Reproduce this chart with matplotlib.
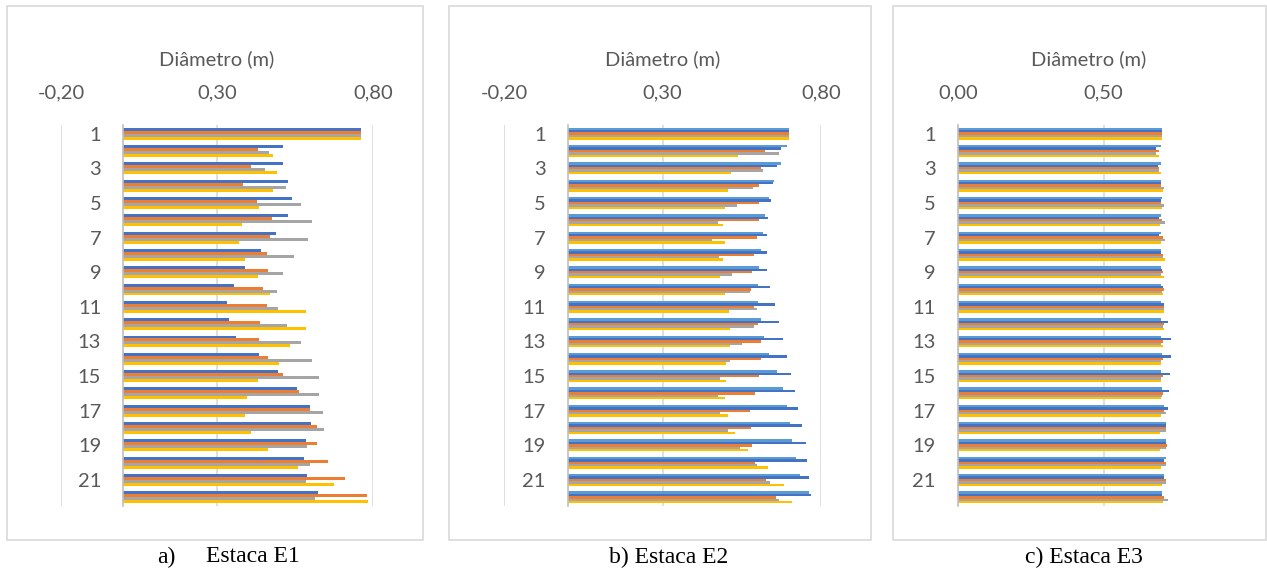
import matplotlib
matplotlib.use("Agg")
import matplotlib.pyplot as plt
from matplotlib.patches import Rectangle
import numpy as np

# ------------------------------------------------------------------
# dados (diametro em m, estacas 1..22)
# ------------------------------------------------------------------
secoes = [1, 2, 3, 4, 5, 6, 7, 8, 9, 10, 11, 12, 13, 14, 15, 16, 17, 18, 19, 20, 21, 22]
rotulos = ["1", "", "3", "", "5", "", "7", "", "9", "", "11", "", "13", "", "15", "", "17", "", "19", "", "21", ""]

# Estaca E1 (4 series)
e1_azul = [0.76, 0.511, 0.510, 0.527, 0.541, 0.526, 0.488, 0.441, 0.391, 0.354, 0.332,
           0.339, 0.361, 0.435, 0.495, 0.558, 0.597, 0.601, 0.585, 0.579, 0.590, 0.623]
e1_laranja = [0.76, 0.433, 0.409, 0.382, 0.428, 0.476, 0.470, 0.459, 0.465, 0.446, 0.460,
              0.438, 0.434, 0.463, 0.511, 0.562, 0.597, 0.619, 0.619, 0.656, 0.710, 0.780]
e1_cinza = [0.76, 0.468, 0.455, 0.522, 0.570, 0.603, 0.593, 0.548, 0.512, 0.493, 0.496,
            0.525, 0.569, 0.605, 0.627, 0.627, 0.639, 0.642, 0.590, 0.598, 0.585, 0.614]
e1_amarelo = [0.76, 0.480, 0.491, 0.480, 0.435, 0.380, 0.370, 0.389, 0.433, 0.469, 0.585,
              0.585, 0.534, 0.500, 0.432, 0.395, 0.391, 0.409, 0.464, 0.560, 0.675, 0.784]

# Estaca E2 (5 series)
e2_azul_claro = [0.70, 0.694, 0.674, 0.653, 0.636, 0.624, 0.617, 0.612, 0.605, 0.602, 0.602,
                 0.609, 0.620, 0.636, 0.662, 0.679, 0.694, 0.701, 0.709, 0.721, 0.735, 0.763]
e2_azul = [0.70, 0.675, 0.662, 0.649, 0.643, 0.634, 0.631, 0.628, 0.628, 0.639, 0.654,
           0.666, 0.680, 0.693, 0.705, 0.719, 0.728, 0.741, 0.752, 0.756, 0.762, 0.768]
e2_laranja = [0.70, 0.622, 0.612, 0.604, 0.603, 0.604, 0.599, 0.589, 0.582, 0.579, 0.589,
              0.600, 0.611, 0.611, 0.604, 0.592, 0.577, 0.580, 0.582, 0.593, 0.626, 0.658]
e2_cinza = [0.70, 0.667, 0.618, 0.586, 0.536, 0.476, 0.455, 0.479, 0.520, 0.577, 0.598,
            0.589, 0.551, 0.513, 0.481, 0.474, 0.480, 0.506, 0.544, 0.598, 0.640, 0.668]
e2_amarelo = [0.70, 0.539, 0.517, 0.507, 0.498, 0.491, 0.497, 0.491, 0.481, 0.498, 0.508,
              0.512, 0.513, 0.501, 0.501, 0.498, 0.506, 0.529, 0.569, 0.632, 0.683, 0.709]

# Estaca E3 (5 series)
e3_azul_claro = [0.700, 0.698, 0.699, 0.699, 0.701, 0.699, 0.698, 0.699, 0.699, 0.699, 0.699,
                 0.699, 0.699, 0.700, 0.699, 0.701, 0.706, 0.713, 0.716, 0.713, 0.707, 0.702]
e3_azul = [0.700, 0.681, 0.686, 0.696, 0.698, 0.691, 0.690, 0.696, 0.700, 0.703, 0.709,
           0.723, 0.730, 0.730, 0.727, 0.725, 0.720, 0.716, 0.713, 0.709, 0.707, 0.700]
e3_laranja = [0.700, 0.689, 0.692, 0.697, 0.698, 0.700, 0.703, 0.703, 0.703, 0.706, 0.706,
              0.706, 0.705, 0.704, 0.703, 0.703, 0.706, 0.714, 0.719, 0.716, 0.713, 0.709]
e3_cinza = [0.700, 0.680, 0.691, 0.707, 0.706, 0.712, 0.711, 0.704, 0.698, 0.701, 0.706,
            0.704, 0.698, 0.698, 0.697, 0.701, 0.713, 0.716, 0.716, 0.716, 0.716, 0.720]
e3_amarelo = [0.700, 0.691, 0.696, 0.703, 0.701, 0.693, 0.699, 0.711, 0.706, 0.703, 0.706,
              0.706, 0.703, 0.696, 0.698, 0.699, 0.696, 0.695, 0.693, 0.696, 0.700, 0.704]

AZUL = "#4472C4"
AZUL_CLARO = "#5B9BD5"
LARANJA = "#ED7D31"
CINZA = "#A5A5A5"
AMARELO = "#FFC000"
TXT = "#595959"
GRADE = "#D9D9D9"

plt.rcParams["font.family"] = ["Lato", "DejaVu Sans"]

W, H = 1267, 574
fig = plt.figure(figsize=(W / 100, H / 100), dpi=100)


def px_axes(x0, x1, y0, y1):
    # retangulo em pixels (origem no topo) -> fracao da figura
    return [x0 / W, 1 - y1 / H, (x1 - x0) / W, (y1 - y0) / H]


def painel(rect, series, cores, xlim, xticks, xticklabels):
    ax = fig.add_axes(rect)
    y = np.array(secoes, dtype=float)
    n = len(series)
    grupo = 0.69
    h = grupo / n
    for i, (vals, c) in enumerate(zip(series, cores)):
        ax.barh(y - grupo / 2 + (i + 0.5) * h, vals, height=h, color=c, zorder=3)

    ax.set_xlim(*xlim)
    ax.set_ylim(22.5, 0.5)

    ax.xaxis.tick_top()
    ax.set_xticks(xticks)
    ax.set_xticklabels(xticklabels)
    ax.tick_params(axis="x", length=0, pad=17, labelsize=14.5, labelcolor=TXT)
    ax.xaxis.set_label_position("top")
    ax.set_xlabel("Diâmetro (m)", fontsize=14.5, color=TXT, labelpad=14)
    ax.grid(axis="x", color=GRADE, linewidth=1.2, zorder=0)

    ax.set_yticks(secoes)
    ax.set_yticklabels(rotulos)
    ax.tick_params(axis="y", length=0, pad=16, labelsize=14.5, labelcolor=TXT)

    for s in ["top", "right", "bottom"]:
        ax.spines[s].set_visible(False)
    ax.spines["left"].set_position(("data", 0))
    ax.spines["left"].set_color("#BFBFBF")
    ax.spines["left"].set_linewidth(1.2)
    ax.spines["left"].set_zorder(4)
    return ax


painel(px_axes(61, 373, 125, 506),
       [e1_azul, e1_laranja, e1_cinza, e1_amarelo],
       [AZUL, LARANJA, CINZA, AMARELO],
       (-0.2, 0.8), [-0.2, 0.3, 0.8], ["-0,20", "0,30", "0,80"])

painel(px_axes(504.4, 821, 125, 506),
       [e2_azul_claro, e2_azul, e2_laranja, e2_cinza, e2_amarelo],
       [AZUL_CLARO, AZUL, LARANJA, CINZA, AMARELO],
       (-0.2, 0.8), [-0.2, 0.3, 0.8], ["-0,20", "0,30", "0,80"])

painel(px_axes(958, 1220, 125, 506),
       [e3_azul_claro, e3_azul, e3_laranja, e3_cinza, e3_amarelo],
       [AZUL_CLARO, AZUL, LARANJA, CINZA, AMARELO],
       (0.0, 0.9), [0.0, 0.5], ["0,00", "0,50"])

# molduras dos graficos
for x0, x1 in [(7, 423), (449, 871), (893, 1266)]:
    r = px_axes(x0, x1, 6, 540)
    fig.patches.append(Rectangle((r[0], r[1]), r[2], r[3], transform=fig.transFigure,
                                 fill=False, edgecolor=GRADE, linewidth=1.2))

# legendas das figuras
cap = dict(fontsize=17, family=["Liberation Serif"], va="center", color="black")
fig.text(157 / W, 1 - 557 / H, "a)", ha="left", **cap)
fig.text(206 / W, 1 - 557 / H, "Estaca E1", ha="left", **cap)
fig.text(669 / W, 1 - 557 / H, "b) Estaca E2", ha="center", **cap)
fig.text(1084 / W, 1 - 557 / H, "c) Estaca E3", ha="center", **cap)

fig.savefig("out.png", dpi=100)
